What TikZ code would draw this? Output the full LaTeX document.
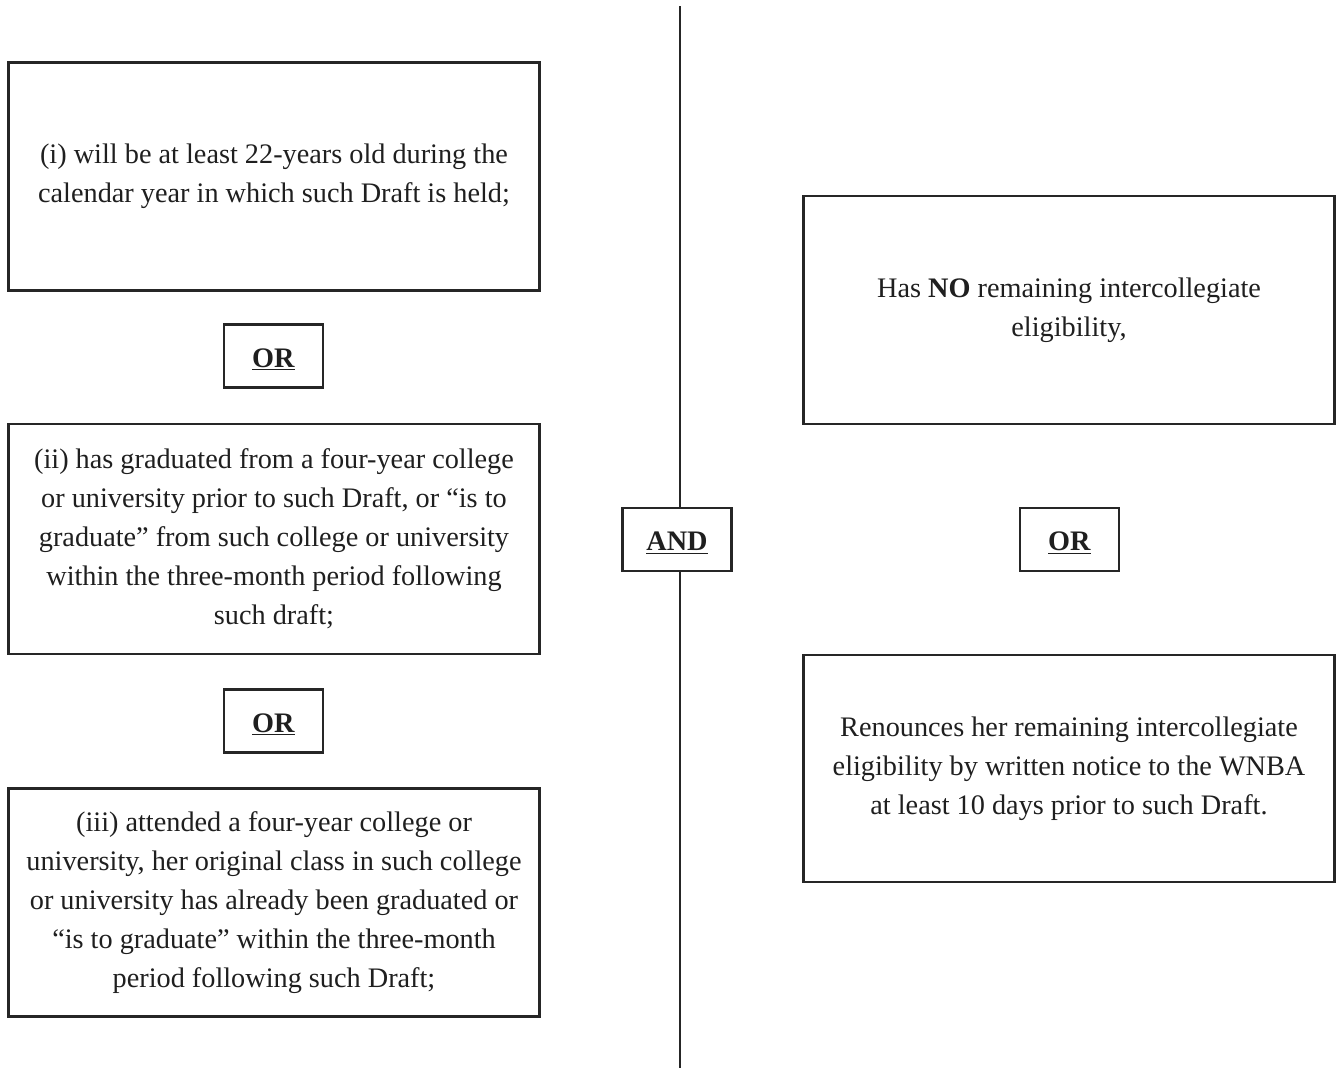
\documentclass[tikz,border=0pt]{standalone}
\usepackage{fontspec}
\setmainfont{Liberation Serif}
\begin{document}
\begin{tikzpicture}[x=0.75pt,y=-0.75pt,
  every node/.style={font=\fontsize{21.2pt}{29.2pt}\selectfont, text=black!88},
  bigbox/.style={draw=black!85, line width=2.2pt, fill=white, minimum width=531*0.75pt, minimum height=228*0.75pt, align=center, inner sep=0pt},
  opbox/.style={draw=black!85, line width=2.2pt, fill=white, minimum height=63*0.75pt, align=center, inner sep=0pt, text height=17pt, text depth=0pt},
  divider/.style={draw=black!85, line width=1.5pt}]
\useasboundingbox (0,0) rectangle (1338,1068);
% left column
\node[bigbox] (b1) at (274,176.5) {(i) will be at least 22-years old during the\\calendar year in which such Draft is held;};
\node[opbox, minimum width=99*0.75pt] (or1) at (273.5,356) {\underline{\textbf{OR}}};
\node[bigbox, minimum height=230*0.75pt] (b2) at (274,539) {(ii) has graduated from a four-year college\\or university prior to such Draft, or ``is to\\graduate'' from such college or university\\within the three-month period following\\such draft;};
\node[opbox, minimum width=99*0.75pt] (or2) at (273.5,721) {\underline{\textbf{OR}}};
\node[bigbox] (b3) at (274,902.5) {(iii) attended a four-year college or\\university, her original class in such college\\or university has already been graduated or\\``is to graduate'' within the three-month\\period following such Draft;};
% divider
\coordinate (top) at (680,6);
\coordinate (bot) at (680,1068);
\node[opbox, minimum width=109*0.75pt] (and) at (677,539.5) {\underline{\textbf{AND}}};
\draw[divider] (top) -- (top |- and.north);
\draw[divider] (bot |- and.south) -- (bot);
% right column
\node[bigbox] (r1) at (1069,310) {Has \textbf{NO} remaining intercollegiate\\eligibility,};
\node[opbox, minimum width=99*0.75pt] (or3) at (1069.5,539.5) {\underline{\textbf{OR}}};
\node[bigbox, minimum height=227*0.75pt] (r2) at (1069,768.5) {Renounces her remaining intercollegiate\\eligibility by written notice to the WNBA\\at least 10 days prior to such Draft.};
\end{tikzpicture}
\end{document}
